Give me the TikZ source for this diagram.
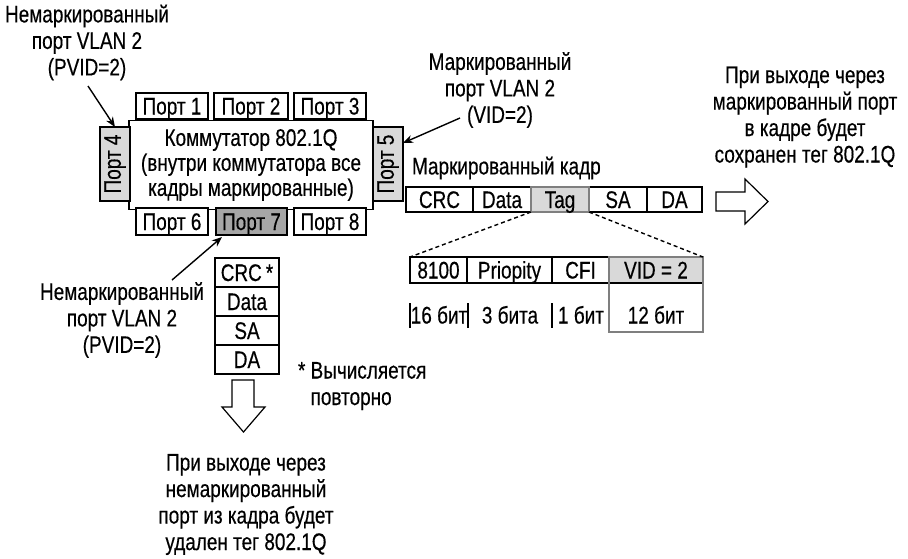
\documentclass[tikz,border=0pt]{standalone}
\usepackage{fontspec}
\usepackage{graphicx}
\setmainfont[FakeStretch=0.79,FakeBold=0.4]{Liberation Sans}
\usetikzlibrary{arrows.meta,calc}
\definecolor{lightg}{HTML}{D9D9D9}
\definecolor{midg}{HTML}{A6A6A6}
\definecolor{bordg}{HTML}{7F7F7F}
\begin{document}
\begin{tikzpicture}[x=1pt,y=-1pt,
  every node/.style={font=\fontsize{24}{26.5}\selectfont, inner sep=0pt, outer sep=0pt},
  box/.style={draw, line width=1.3pt, fill=white, anchor=center},
  cell/.style={box, text height=17pt, text depth=0pt},
  lbl/.style={align=center},
  arr/.style={-{Stealth[length=10pt,width=8pt]}, line width=1.4pt},
  gbord/.style={draw=bordg, line width=2pt},
  hollow/.style={draw, line width=1.2pt, fill=white, line join=miter},
  sep/.style={line width=1.3pt},
]
\useasboundingbox (0,0) rectangle (908,558);

% switch
\node[box, minimum width=244, minimum height=89, align=center, font=\fontsize{24}{25}\selectfont] (sw) at (251,165)
  {Коммутатор 802.1Q\\(внутри коммутатора все\\кадры маркированные)};
\node[cell, minimum width=72, minimum height=26] (p1) at (172,106) {Порт 1};
\node[cell, minimum width=74, minimum height=26] (p2) at (251,106) {Порт 2};
\node[cell, minimum width=72, minimum height=26] (p3) at (330,106) {Порт 3};
\node[cell, minimum width=72, minimum height=27] (p6) at (172,221.5) {Порт 6};
\node[cell, fill=midg, minimum width=71, minimum height=27] (p7) at (251.5,221.5) {Порт 7};
\node[cell, minimum width=72, minimum height=27] (p8) at (330,221.5) {Порт 8};
\node[box, fill=lightg, minimum width=30, minimum height=74] (p4) at (115,164) {\rotatebox{90}{Порт 4}};
\node[box, fill=lightg, minimum width=30, minimum height=74] (p5) at (388,164) {\rotatebox{90}{Порт 5}};

% labels
\node[lbl] (ltl) at (87,42.5) {Немаркированный\\порт VLAN 2\\(PVID=2)};
\node[lbl] (ltr) at (500,90) {Маркированный\\порт VLAN 2\\(VID=2)};
\node[lbl] (lr) at (805,117) {При выходе через\\маркированный порт\\в кадре будет\\сохранен тег 802.1Q};
\node[lbl] (lbl7) at (122,320) {Немаркированный\\порт VLAN 2\\(PVID=2)};
\node[lbl] (lbot) at (246,504.5) {При выходе через\\немаркированный\\порт из кадра будет\\удален тег 802.1Q};
\node[align=left, anchor=west] (note) at (298,386) {* Вычисляется\\\hphantom{* }повторно};

% arrows
\coordinate (a1) at (88,86);
\coordinate (a2) at (460,118);
\coordinate (a3) at (172,280);
\draw[arr] (a1) -- (p4.north);
\draw[arr] (a2) -- ([yshift=-16pt]p5.north east);
\draw[arr] (a3) -- ([xshift=6pt,yshift=-2pt]p7.south west);

% tagged frame
\node[anchor=west] (ft) at (412,168) {Маркированный кадр};
\node[cell, minimum width=67, minimum height=25] (crc) at (439.5,199.5) {CRC};
\node[cell, minimum width=58, minimum height=25] (data) at (502,199.5) {Data};
\node[cell, minimum width=58, minimum height=25] (sa) at (618,199.5) {SA};
\node[cell, minimum width=55, minimum height=25] (da) at (674.5,199.5) {DA};
\node[cell, gbord, fill=lightg, minimum width=58, minimum height=25] (tag) at (560,199.5) {Tag};

% right hollow arrow
\draw[hollow] (716,192) -- (745,192) -- (745,179) -- (768,201.5) -- (745,224) -- (745,211) -- (716,211) -- cycle;

% tag details
\node[cell, minimum width=57, minimum height=26] (c8100) at (438.5,270) {8100};
\node[cell, minimum width=85, minimum height=26] (cpri) at (509.5,270) {Priopity};
\node[cell, minimum width=57, minimum height=26] (ccfi) at (580.5,270) {CFI};
\node[cell, fill=lightg, minimum width=94, minimum height=26] (vid) at (656,270) {VID = 2};
\draw[gbord] (vid.north west) rectangle ($(vid.south east)+(0,49)$);
\draw[dashed, line width=1.4pt, dash pattern=on 4pt off 3pt] (tag.south west) -- (c8100.north west);
\draw[dashed, line width=1.4pt, dash pattern=on 4pt off 3pt] (tag.south east) -- (vid.north east);

\node[text height=17pt, text depth=0pt] (b1) at (439,315) {16 бит};
\node[text height=17pt, text depth=0pt] (b2) at (510,315) {3 бита};
\node[text height=17pt, text depth=0pt] (b3) at (581,315) {1 бит};
\node[text height=17pt, text depth=0pt] (b4) at (656,315) {12 бит};
\draw[sep] (410,303) -- (410,328);
\draw[sep] (468,303) -- (468,328);
\draw[sep] (552,303) -- (552,328);

% untagged frame stack
\node[cell, minimum width=64, minimum height=29] (s1) at (247,272.5) {CRC\,*};
\node[cell, minimum width=64, minimum height=29] (s2) at (247,301.5) {Data};
\node[cell, minimum width=64, minimum height=29] (s3) at (247,330.5) {SA};
\node[cell, minimum width=64, minimum height=29] (s4) at (247,359.5) {DA};

% down hollow arrow
\draw[hollow] (232,380) -- (254,380) -- (254,407) -- (265,407) -- (243.5,432) -- (222,407) -- (232,407) -- cycle;
\end{tikzpicture}
\end{document}
